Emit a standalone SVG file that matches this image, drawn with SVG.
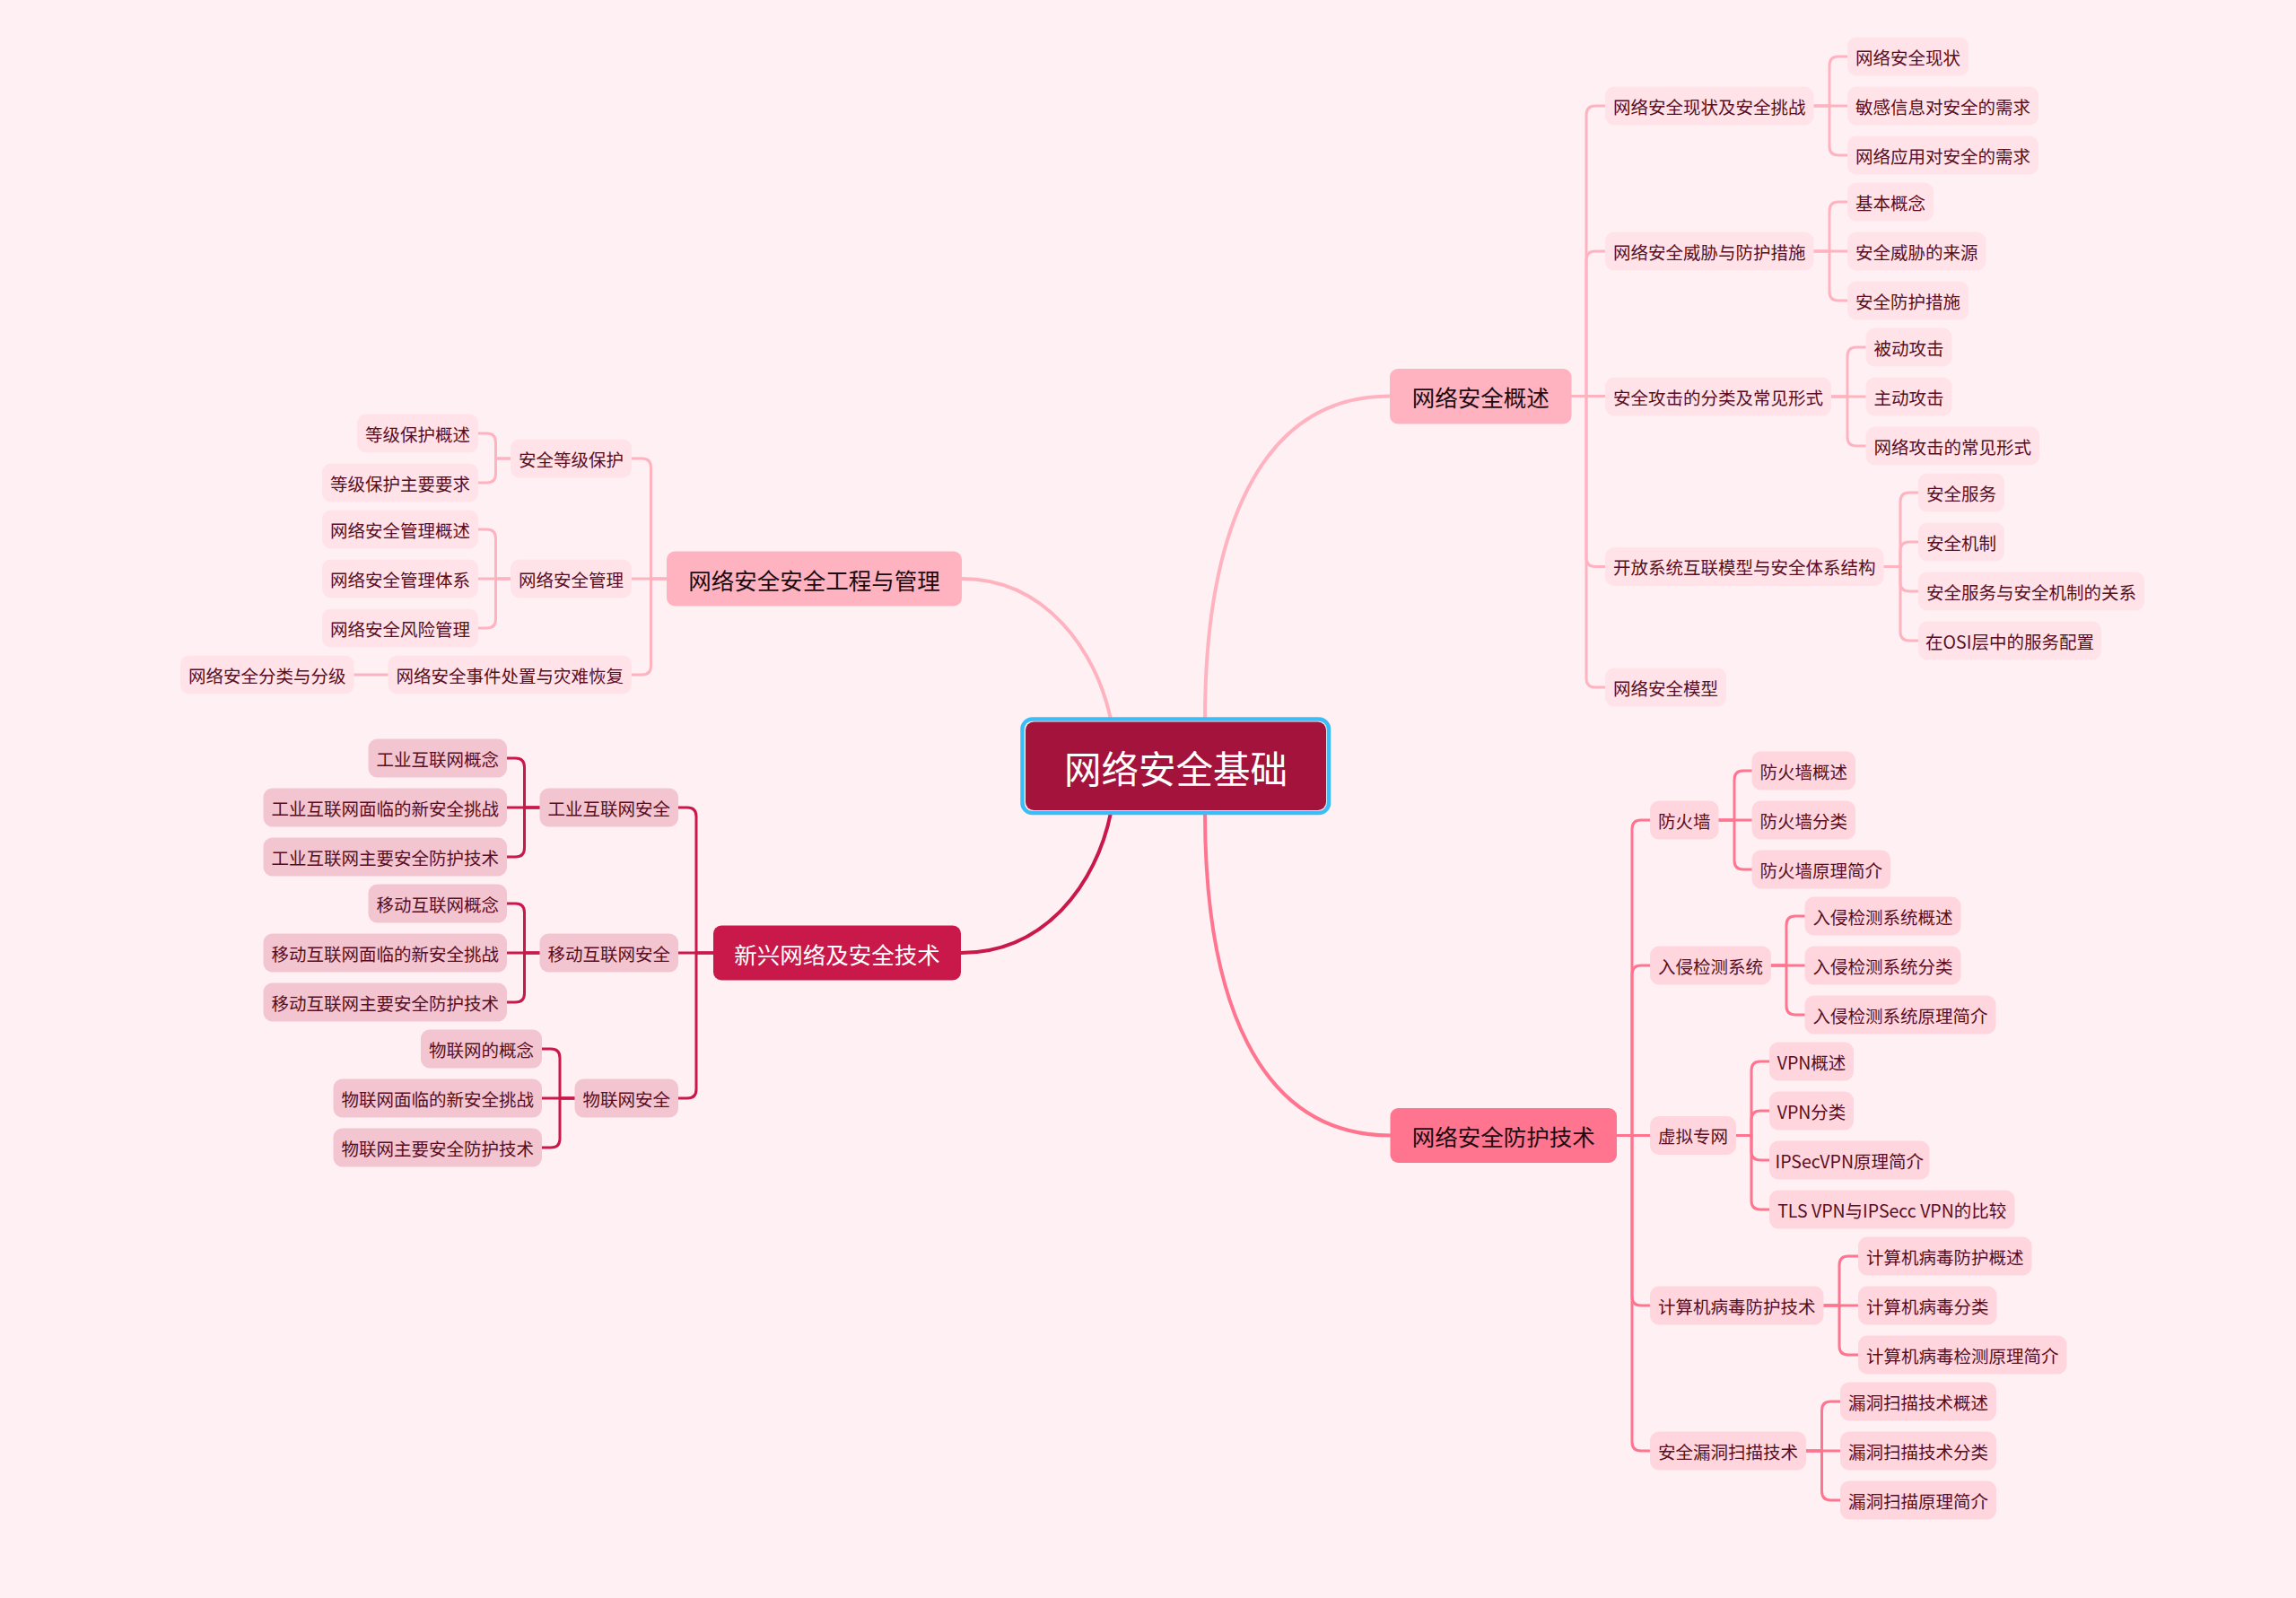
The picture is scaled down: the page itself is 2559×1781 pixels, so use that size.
<svg xmlns="http://www.w3.org/2000/svg" width="2559" height="1781" viewBox="0 0 2559 1781">
<style>
text{font-family:'Noto Sans CJK SC','Noto Sans',sans-serif;dominant-baseline:central;text-anchor:middle}
.s{font-size:19.5px;fill:#590d22}
.m{font-size:25.5px;fill:#1c0b10}
.mw{font-size:25.5px;fill:#ffffff}
.ca{fill:#ffe3e9}
.cb{fill:#ffd6de}
.cc{fill:#f3c5d0}
.con path{fill:none;stroke-width:3;stroke-linecap:round;stroke-linejoin:round}
.con path.main{stroke-width:4}
.la{stroke:#ffb3c1}
.lb{stroke:#ff758f}
.lc{stroke:#c9184a}
</style>
<rect width="2559" height="1781" fill="#fff0f3"/>
<g id="connectors" class="con">
<path class="la main" d="M1343,802 C1343,600 1400,441.5 1549,441.5"/>
<path class="lb main" d="M1343,906 C1343,1110 1400,1265.5 1550,1265.5"/>
<path class="la main" d="M1238,802 C1222,725 1165,645 1072,645"/>
<path class="lc main" d="M1238,906 C1222,985 1165,1062 1071,1062"/>
<path class="la" d="M1751,441.5H1768V128Q1768,118 1778,118H1789"/>
<path class="la" d="M1751,441.5H1768V290Q1768,280 1778,280H1789"/>
<path class="la" d="M1751,441.5H1789"/>
<path class="la" d="M1751,441.5H1768V621.5Q1768,631.5 1778,631.5H1789"/>
<path class="la" d="M1751,441.5H1768V756Q1768,766 1778,766H1789"/>
<path class="la" d="M2021.5,118H2039V73Q2039,63 2049,63H2059"/>
<path class="la" d="M2021.5,118H2059"/>
<path class="la" d="M2021.5,118H2039V163Q2039,173 2049,173H2059"/>
<path class="la" d="M2021.5,280H2039V235Q2039,225 2049,225H2059"/>
<path class="la" d="M2021.5,280H2059"/>
<path class="la" d="M2021.5,280H2039V325Q2039,335 2049,335H2059"/>
<path class="la" d="M2041,442H2059V397Q2059,387 2069,387H2079.5"/>
<path class="la" d="M2041,442H2079.5"/>
<path class="la" d="M2041,442H2059V487Q2059,497 2069,497H2079.5"/>
<path class="la" d="M2099.5,631.5H2118V559Q2118,549 2128,549H2138"/>
<path class="la" d="M2099.5,631.5H2118V614Q2118,604 2128,604H2138"/>
<path class="la" d="M2099.5,631.5H2118V649Q2118,659 2128,659H2138"/>
<path class="la" d="M2099.5,631.5H2118V704Q2118,714 2128,714H2138"/>
<path class="la" d="M743,645H725.5V521Q725.5,511 715.5,511H704"/>
<path class="la" d="M743,645H704"/>
<path class="la" d="M743,645H725.5V742Q725.5,752 715.5,752H704"/>
<path class="la" d="M569,511H552.5V493Q552.5,483 542.5,483H533"/>
<path class="la" d="M569,511H552.5V528Q552.5,538 542.5,538H533"/>
<path class="la" d="M569,645H552.5V600Q552.5,590 542.5,590H533"/>
<path class="la" d="M569,645H533"/>
<path class="la" d="M569,645H552.5V690Q552.5,700 542.5,700H533"/>
<path class="la" d="M432.5,752H394.5"/>
<path class="lb" d="M1802,1265.5H1819V924Q1819,914 1829,914H1839"/>
<path class="lb" d="M1802,1265.5H1819V1086Q1819,1076 1829,1076H1839"/>
<path class="lb" d="M1802,1265.5H1839"/>
<path class="lb" d="M1802,1265.5H1819V1445Q1819,1455 1829,1455H1839"/>
<path class="lb" d="M1802,1265.5H1819V1607Q1819,1617 1829,1617H1839"/>
<path class="lb" d="M1915.5,914H1933V869Q1933,859 1943,859H1952.5"/>
<path class="lb" d="M1915.5,914H1952.5"/>
<path class="lb" d="M1915.5,914H1933V959Q1933,969 1943,969H1952.5"/>
<path class="lb" d="M1974,1076H1991V1031Q1991,1021 2001,1021H2011.5"/>
<path class="lb" d="M1974,1076H2011.5"/>
<path class="lb" d="M1974,1076H1991V1121Q1991,1131 2001,1131H2011.5"/>
<path class="lb" d="M1935,1265.5H1952V1193Q1952,1183 1962,1183H1972"/>
<path class="lb" d="M1935,1265.5H1952V1248Q1952,1238 1962,1238H1972"/>
<path class="lb" d="M1935,1265.5H1952V1283Q1952,1293 1962,1293H1972"/>
<path class="lb" d="M1935,1265.5H1952V1338Q1952,1348 1962,1348H1972"/>
<path class="lb" d="M2032.5,1455H2050V1410Q2050,1400 2060,1400H2071"/>
<path class="lb" d="M2032.5,1455H2071"/>
<path class="lb" d="M2032.5,1455H2050V1500Q2050,1510 2060,1510H2071"/>
<path class="lb" d="M2013,1617H2030.5V1572Q2030.5,1562 2040.5,1562H2051"/>
<path class="lb" d="M2013,1617H2051"/>
<path class="lb" d="M2013,1617H2030.5V1662Q2030.5,1672 2040.5,1672H2051"/>
<path class="lc" d="M795,1062H776V910Q776,900 766,900H756"/>
<path class="lc" d="M795,1062H756"/>
<path class="lc" d="M795,1062H776V1214Q776,1224 766,1224H756"/>
<path class="lc" d="M601.5,900H584.5V855Q584.5,845 574.5,845H565"/>
<path class="lc" d="M601.5,900H565"/>
<path class="lc" d="M601.5,900H584.5V945Q584.5,955 574.5,955H565"/>
<path class="lc" d="M601.5,1062H584.5V1017Q584.5,1007 574.5,1007H565"/>
<path class="lc" d="M601.5,1062H565"/>
<path class="lc" d="M601.5,1062H584.5V1107Q584.5,1117 574.5,1117H565"/>
<path class="lc" d="M640.5,1224H624V1179Q624,1169 614,1169H604"/>
<path class="lc" d="M640.5,1224H604"/>
<path class="lc" d="M640.5,1224H624V1269Q624,1279 614,1279H604"/>
</g>
<g id="root">
<rect x="1139.5" y="801.5" width="341.5" height="104.5" rx="11" fill="#fff0f3" stroke="#3dbdf5" stroke-width="4.5"/>
<rect x="1143" y="804.5" width="335" height="98.5" rx="9" fill="#a4133c"/>
<text x="1310.5" y="855" style="font-size:41.5px;fill:#ffffff">网络安全基础</text>
</g>
<g id="main-overview"><rect x="1549" y="411" width="202.5" height="61.5" rx="9" fill="#ffb3c1"/><text class="m" x="1650.25" y="441.75">网络安全概述</text></g>
<g id="main-defense"><rect x="1549.5" y="1235" width="252.5" height="61" rx="9" fill="#ff758f"/><text class="m" x="1675.75" y="1265.5">网络安全防护技术</text></g>
<g id="main-engineering"><rect x="743" y="614.5" width="329" height="61" rx="9" fill="#ffb3c1"/><text class="m" x="907.5" y="645">网络安全安全工程与管理</text></g>
<g id="main-emerging"><rect x="795" y="1031.5" width="276" height="61" rx="9" fill="#c9184a"/><text class="mw" x="933" y="1062">新兴网络及安全技术</text></g>

<g id="a1"><rect class="ca" x="1789" y="96.5" width="232.5" height="43" rx="10"/><text class="s" x="1905.25" y="118">网络安全现状及安全挑战</text></g>
<g id="a2"><rect class="ca" x="1789" y="258.5" width="232.5" height="43" rx="10"/><text class="s" x="1905.25" y="280">网络安全威胁与防护措施</text></g>
<g id="a3"><rect class="ca" x="1789" y="420.5" width="252" height="43" rx="10"/><text class="s" x="1915" y="442">安全攻击的分类及常见形式</text></g>
<g id="a4"><rect class="ca" x="1789" y="610" width="310.5" height="43" rx="10"/><text class="s" x="1944.25" y="631.5">开放系统互联模型与安全体系结构</text></g>
<g id="a5"><rect class="ca" x="1789" y="744.5" width="135" height="43" rx="10"/><text class="s" x="1856.5" y="766">网络安全模型</text></g>
<g id="a1-1"><rect class="ca" x="2059" y="41.5" width="135" height="43" rx="10"/><text class="s" x="2126.5" y="63">网络安全现状</text></g>
<g id="a1-2"><rect class="ca" x="2059" y="96.5" width="213" height="43" rx="10"/><text class="s" x="2165.5" y="118">敏感信息对安全的需求</text></g>
<g id="a1-3"><rect class="ca" x="2059" y="151.5" width="213" height="43" rx="10"/><text class="s" x="2165.5" y="173">网络应用对安全的需求</text></g>
<g id="a2-1"><rect class="ca" x="2059" y="203.5" width="96" height="43" rx="10"/><text class="s" x="2107" y="225">基本概念</text></g>
<g id="a2-2"><rect class="ca" x="2059" y="258.5" width="154.5" height="43" rx="10"/><text class="s" x="2136.25" y="280">安全威胁的来源</text></g>
<g id="a2-3"><rect class="ca" x="2059" y="313.5" width="135" height="43" rx="10"/><text class="s" x="2126.5" y="335">安全防护措施</text></g>
<g id="a3-1"><rect class="ca" x="2079.5" y="365.5" width="96" height="43" rx="10"/><text class="s" x="2127.5" y="387">被动攻击</text></g>
<g id="a3-2"><rect class="ca" x="2079.5" y="420.5" width="96" height="43" rx="10"/><text class="s" x="2127.5" y="442">主动攻击</text></g>
<g id="a3-3"><rect class="ca" x="2079.5" y="475.5" width="193.5" height="43" rx="10"/><text class="s" x="2176.25" y="497">网络攻击的常见形式</text></g>
<g id="a4-1"><rect class="ca" x="2138" y="527.5" width="96" height="43" rx="10"/><text class="s" x="2186" y="549">安全服务</text></g>
<g id="a4-2"><rect class="ca" x="2138" y="582.5" width="96" height="43" rx="10"/><text class="s" x="2186" y="604">安全机制</text></g>
<g id="a4-3"><rect class="ca" x="2138" y="637.5" width="252" height="43" rx="10"/><text class="s" x="2264" y="659">安全服务与安全机制的关系</text></g>
<g id="a4-4"><rect class="ca" x="2138" y="692.5" width="204" height="43" rx="10"/><text class="s" x="2240" y="714">在OSI层中的服务配置</text></g>

<g id="b1"><rect class="cb" x="1839" y="892.5" width="76.5" height="43" rx="10"/><text class="s" x="1877.25" y="914">防火墙</text></g>
<g id="b2"><rect class="cb" x="1839" y="1054.5" width="135" height="43" rx="10"/><text class="s" x="1906.5" y="1076">入侵检测系统</text></g>
<g id="b3"><rect class="cb" x="1839" y="1244" width="96" height="43" rx="10"/><text class="s" x="1887" y="1265.5">虚拟专网</text></g>
<g id="b4"><rect class="cb" x="1839" y="1433.5" width="193.5" height="43" rx="10"/><text class="s" x="1935.75" y="1455">计算机病毒防护技术</text></g>
<g id="b5"><rect class="cb" x="1839" y="1595.5" width="174" height="43" rx="10"/><text class="s" x="1926" y="1617">安全漏洞扫描技术</text></g>
<g id="b1-1"><rect class="cb" x="1952.5" y="837.5" width="115.5" height="43" rx="10"/><text class="s" x="2010.25" y="859">防火墙概述</text></g>
<g id="b1-2"><rect class="cb" x="1952.5" y="892.5" width="115.5" height="43" rx="10"/><text class="s" x="2010.25" y="914">防火墙分类</text></g>
<g id="b1-3"><rect class="cb" x="1952.5" y="947.5" width="154.5" height="43" rx="10"/><text class="s" x="2029.75" y="969">防火墙原理简介</text></g>
<g id="b2-1"><rect class="cb" x="2011.5" y="999.5" width="174" height="43" rx="10"/><text class="s" x="2098.5" y="1021">入侵检测系统概述</text></g>
<g id="b2-2"><rect class="cb" x="2011.5" y="1054.5" width="174" height="43" rx="10"/><text class="s" x="2098.5" y="1076">入侵检测系统分类</text></g>
<g id="b2-3"><rect class="cb" x="2011.5" y="1109.5" width="213" height="43" rx="10"/><text class="s" x="2118" y="1131">入侵检测系统原理简介</text></g>
<g id="b3-1"><rect class="cb" x="1972" y="1161.5" width="94" height="43" rx="10"/><text class="s" x="2019" y="1183">VPN概述</text></g>
<g id="b3-2"><rect class="cb" x="1972" y="1216.5" width="94" height="43" rx="10"/><text class="s" x="2019" y="1238">VPN分类</text></g>
<g id="b3-3"><rect class="cb" x="1972" y="1271.5" width="178.5" height="43" rx="10"/><text class="s" x="2061.25" y="1293">IPSecVPN原理简介</text></g>
<g id="b3-4"><rect class="cb" x="1972" y="1326.5" width="273.5" height="43" rx="10"/><text class="s" x="2108.75" y="1348">TLS VPN与IPSecc VPN的比较</text></g>
<g id="b4-1"><rect class="cb" x="2071" y="1378.5" width="193.5" height="43" rx="10"/><text class="s" x="2167.75" y="1400">计算机病毒防护概述</text></g>
<g id="b4-2"><rect class="cb" x="2071" y="1433.5" width="154.5" height="43" rx="10"/><text class="s" x="2148.25" y="1455">计算机病毒分类</text></g>
<g id="b4-3"><rect class="cb" x="2071" y="1488.5" width="232.5" height="43" rx="10"/><text class="s" x="2187.25" y="1510">计算机病毒检测原理简介</text></g>
<g id="b5-1"><rect class="cb" x="2051" y="1540.5" width="174" height="43" rx="10"/><text class="s" x="2138" y="1562">漏洞扫描技术概述</text></g>
<g id="b5-2"><rect class="cb" x="2051" y="1595.5" width="174" height="43" rx="10"/><text class="s" x="2138" y="1617">漏洞扫描技术分类</text></g>
<g id="b5-3"><rect class="cb" x="2051" y="1650.5" width="174" height="43" rx="10"/><text class="s" x="2138" y="1672">漏洞扫描原理简介</text></g>

<g id="c1"><rect class="ca" x="569" y="489.5" width="135" height="43" rx="10"/><text class="s" x="636.5" y="511">安全等级保护</text></g>
<g id="c2"><rect class="ca" x="569" y="623.5" width="135" height="43" rx="10"/><text class="s" x="636.5" y="645">网络安全管理</text></g>
<g id="c3"><rect class="ca" x="432.5" y="730.5" width="271.5" height="43" rx="10"/><text class="s" x="568.25" y="752">网络安全事件处置与灾难恢复</text></g>
<g id="c1-1"><rect class="ca" x="398" y="461.5" width="135" height="43" rx="10"/><text class="s" x="465.5" y="483">等级保护概述</text></g>
<g id="c1-2"><rect class="ca" x="359" y="516.5" width="174" height="43" rx="10"/><text class="s" x="446" y="538">等级保护主要要求</text></g>
<g id="c2-1"><rect class="ca" x="359" y="568.5" width="174" height="43" rx="10"/><text class="s" x="446" y="590">网络安全管理概述</text></g>
<g id="c2-2"><rect class="ca" x="359" y="623.5" width="174" height="43" rx="10"/><text class="s" x="446" y="645">网络安全管理体系</text></g>
<g id="c2-3"><rect class="ca" x="359" y="678.5" width="174" height="43" rx="10"/><text class="s" x="446" y="700">网络安全风险管理</text></g>
<g id="c3-1"><rect class="ca" x="201" y="730.5" width="193.5" height="43" rx="10"/><text class="s" x="297.75" y="752">网络安全分类与分级</text></g>

<g id="d1"><rect class="cc" x="601.5" y="878.5" width="154.5" height="43" rx="10"/><text class="s" x="678.75" y="900">工业互联网安全</text></g>
<g id="d2"><rect class="cc" x="601.5" y="1040.5" width="154.5" height="43" rx="10"/><text class="s" x="678.75" y="1062">移动互联网安全</text></g>
<g id="d3"><rect class="cc" x="640.5" y="1202.5" width="115.5" height="43" rx="10"/><text class="s" x="698.25" y="1224">物联网安全</text></g>
<g id="d1-1"><rect class="cc" x="410.5" y="823.5" width="154.5" height="43" rx="10"/><text class="s" x="487.75" y="845">工业互联网概念</text></g>
<g id="d1-2"><rect class="cc" x="293.5" y="878.5" width="271.5" height="43" rx="10"/><text class="s" x="429.25" y="900">工业互联网面临的新安全挑战</text></g>
<g id="d1-3"><rect class="cc" x="293.5" y="933.5" width="271.5" height="43" rx="10"/><text class="s" x="429.25" y="955">工业互联网主要安全防护技术</text></g>
<g id="d2-1"><rect class="cc" x="410.5" y="985.5" width="154.5" height="43" rx="10"/><text class="s" x="487.75" y="1007">移动互联网概念</text></g>
<g id="d2-2"><rect class="cc" x="293.5" y="1040.5" width="271.5" height="43" rx="10"/><text class="s" x="429.25" y="1062">移动互联网面临的新安全挑战</text></g>
<g id="d2-3"><rect class="cc" x="293.5" y="1095.5" width="271.5" height="43" rx="10"/><text class="s" x="429.25" y="1117">移动互联网主要安全防护技术</text></g>
<g id="d3-1"><rect class="cc" x="469" y="1147.5" width="135" height="43" rx="10"/><text class="s" x="536.5" y="1169">物联网的概念</text></g>
<g id="d3-2"><rect class="cc" x="371.5" y="1202.5" width="232.5" height="43" rx="10"/><text class="s" x="487.75" y="1224">物联网面临的新安全挑战</text></g>
<g id="d3-3"><rect class="cc" x="371.5" y="1257.5" width="232.5" height="43" rx="10"/><text class="s" x="487.75" y="1279">物联网主要安全防护技术</text></g>
</svg>
